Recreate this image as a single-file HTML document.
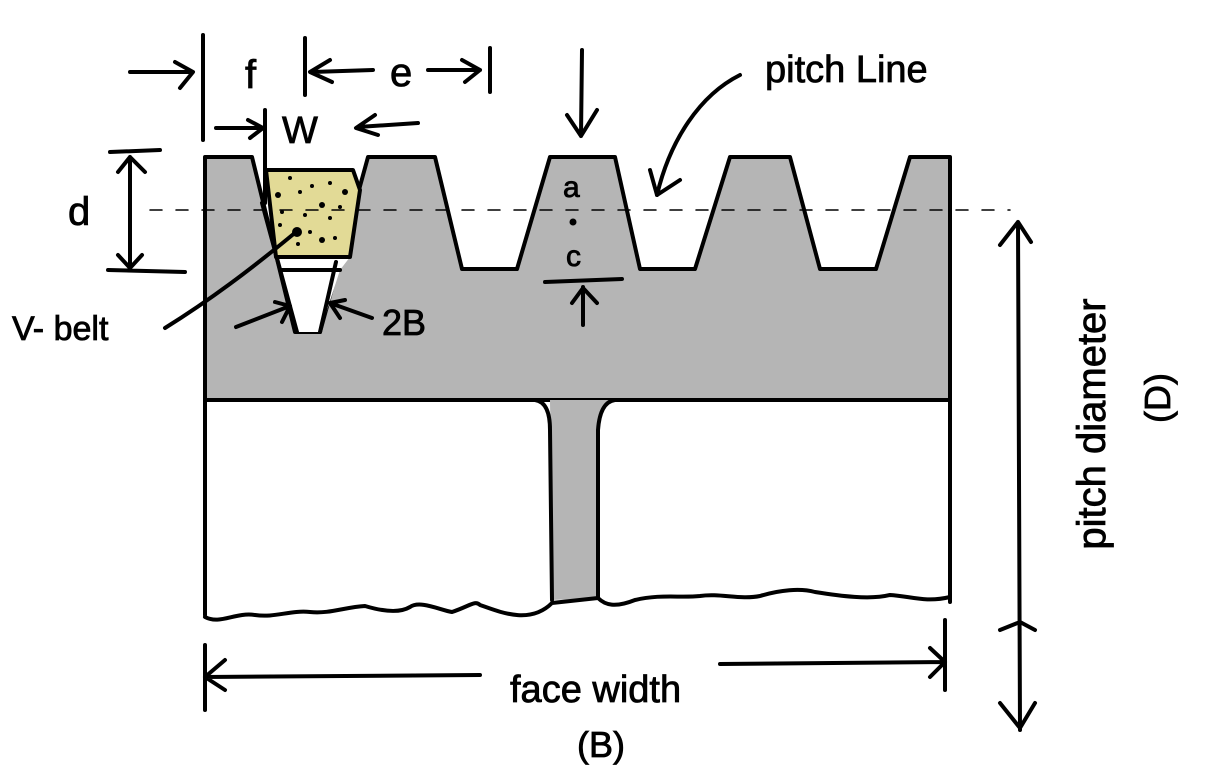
<!DOCTYPE html>
<html><head><meta charset="utf-8"><style>
html,body{margin:0;padding:0;background:#fff;}
svg{display:block;}
text{font-family:"Liberation Sans",sans-serif;fill:#000;stroke:#000;stroke-width:0.8;}
</style></head><body>
<svg width="1215" height="780" viewBox="0 0 1215 780" xmlns="http://www.w3.org/2000/svg">
<g stroke="#000" stroke-width="4" fill="none" stroke-linecap="round" stroke-linejoin="round">
<path d="M205,400 L205,157 L252,157 L295,332 L320,332 L368,157 L435,157 L462,269 L517,269 L550,157 L615,157 L640,269 L695,269 L730,157 L790,157 L820,269 L876,269 L910,157 L950,157 L950,400 Z" fill="#b5b5b5"/>
<path d="M276,257 L350,257 L340,270 L320,332 L297,332 L280,270 Z" fill="#fff" stroke="none"/>
<line x1="280" y1="270" x2="340" y2="270"/>
<line x1="262" y1="203" x2="297" y2="332"/>
<line x1="336" y1="262" x2="320" y2="332"/>
<path d="M266,170 L353,170 L360,190 L350,257 L276,257 Z" fill="#e2da96"/>
<g fill="#000" stroke="none">
<circle cx="290" cy="178" r="2"/><circle cx="312" cy="186" r="2"/><circle cx="330" cy="183" r="2"/><circle cx="345" cy="192" r="3"/>
<circle cx="278" cy="195" r="3"/><circle cx="300" cy="192" r="2"/><circle cx="322" cy="205" r="3"/><circle cx="340" cy="207" r="2"/>
<circle cx="282" cy="212" r="2"/><circle cx="305" cy="215" r="2"/><circle cx="330" cy="218" r="2"/><circle cx="280" cy="225" r="2"/>
<circle cx="310" cy="232" r="2"/><circle cx="322" cy="240" r="3"/><circle cx="298" cy="244" r="2"/><circle cx="335" cy="238" r="2"/>
<circle cx="297" cy="232" r="5"/>
</g>
<path d="M205,400 L205,615 M950,400 L950,602" />
<path d="M550,400 Q550,420 552,430 L552,600 L598,598 L598,430 Q598,405 615,400 Z" fill="#b5b5b5" stroke="none"/>
<path d="M205,400 L535,400 Q550,402 550,430 L552,600 M615,400 L950,400 M615,400 Q600,402 598,430 L598,598"/>
<path d="M205,617 C220,625 235,612 255,615 C275,618 290,610 310,612 C330,614 345,607 365,606 C385,612 400,613 410,607 C420,600 440,610 452,612 C470,606 475,600 480,605 C500,612 530,625 552,603 L598,598 C605,605 615,608 635,600 C660,594 680,598 700,596 C720,593 740,600 760,596 C780,590 800,588 815,592 C840,596 870,600 890,595 C910,596 925,603 950,597"/>
<line x1="150" y1="210" x2="1010" y2="210" stroke-width="1.5" stroke-dasharray="12,14"/>
<line x1="203" y1="35" x2="203" y2="140"/>
<path d="M130,72 L192,72 M175,62 L193,72 L180,88"/>
<line x1="305" y1="38" x2="305" y2="95"/>
<path d="M312,72 L373,70 M330,60 L310,72 L332,82"/>
<path d="M428,70 L480,70 M462,60 L480,70 L465,82"/>
<line x1="490" y1="48" x2="490" y2="92"/>
<line x1="265" y1="110" x2="265" y2="203"/>
<path d="M216,128 L262,128 M248,120 L263,128 L250,138"/>
<path d="M358,127 L418,123 M375,115 L356,128 L378,135"/>
<path d="M582,50 L581,136 M567,115 L581,136 L597,110"/>
<path d="M740,75 C700,95 670,140 657,195 M650,170 L657,195 L680,180"/>
<path d="M110,152 L160,150 M108,270 L185,272 M130,157 L130,268 M118,172 L130,157 L145,172 M118,255 L130,268 L142,255"/>
<path d="M545,282 L622,279 M583,287 L583,325 M572,303 L583,288 L597,303"/>
<path d="M165,328 C210,300 250,270 296,232"/>
<path d="M236,327 L290,306 M275,302 L290,306 L282,322"/>
<path d="M372,318 L330,303 M345,300 L330,303 L340,318"/>
<path d="M205,645 L205,710 M205,677 L480,675 M225,660 L205,677 L225,690"/>
<path d="M720,664 L945,662 M930,648 L945,662 L930,677 M945,620 L945,690"/>
<path d="M1018,222 L1020,730 M1000,245 L1018,222 L1031,242 M1000,630 L1020,622 L1035,630 M1000,703 L1020,728 L1035,703"/>
</g>
<g font-size="40">
<text x="245" y="88">f</text>
<text x="390" y="86">e</text>
<text x="282" y="143" font-size="38">W</text>
<text x="68" y="225">d</text>
<text x="563" y="197" font-size="30">a</text>
<circle cx="573" cy="222" r="3.5"/>
<text x="566" y="266" font-size="30">c</text>
<text x="12" y="340" font-size="34">V- belt</text>
<text x="382" y="335" font-size="36">2B</text>
<text x="765" y="82" font-size="38">pitch Line</text>
<text x="510" y="702" font-size="38">face width</text>
<text x="577" y="757" font-size="36">(B)</text>
<text transform="translate(1105,424) rotate(-90)" text-anchor="middle" font-size="40">pitch diameter</text>
<text transform="translate(1170,398) rotate(-90)" text-anchor="middle" font-size="36">(D)</text>
</g>
</svg>
</body></html>
